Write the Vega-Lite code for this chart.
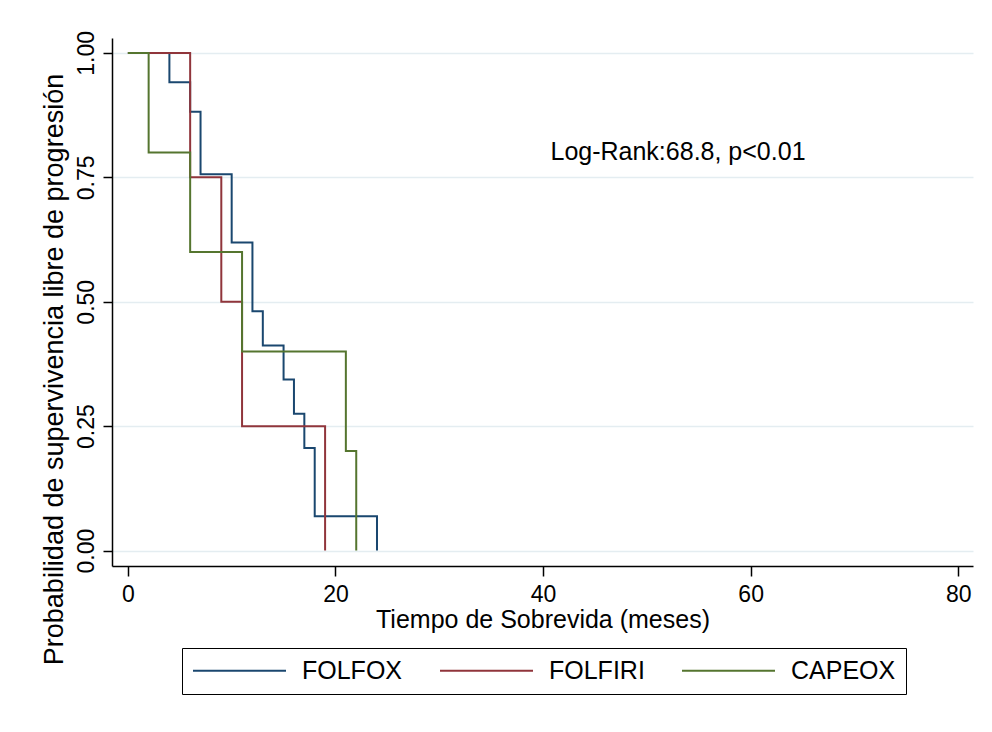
{
  "$schema": "https://vega.github.io/schema/vega-lite/v6.json",
  "width": 861,
  "height": 528,
  "autosize": {"type": "none"},
  "padding": {"left": 112, "top": 38, "right": 19, "bottom": 166},
  "background": "white",
  "config": {
    "font": "Liberation Sans",
    "view": {"stroke": null},
    "axis": {
      "domainColor": "black",
      "domainWidth": 1.5,
      "tickColor": "black",
      "tickWidth": 1.5,
      "labelColor": "black",
      "titleColor": "black",
      "labelFont": "Liberation Sans",
      "titleFont": "Liberation Sans",
      "titleFontWeight": "normal",
      "gridColor": "#e4edf1",
      "gridWidth": 1.5
    },
    "legend": {
      "labelFont": "Liberation Sans"
    }
  },
  "layer": [
    {
      "data": {
        "values": [
          {"t": 0, "s": 1, "grupo": "FOLFOX"},
          {"t": 4, "s": 0.941, "grupo": "FOLFOX"},
          {"t": 6, "s": 0.882, "grupo": "FOLFOX"},
          {"t": 7, "s": 0.756, "grupo": "FOLFOX"},
          {"t": 10, "s": 0.619, "grupo": "FOLFOX"},
          {"t": 12, "s": 0.481, "grupo": "FOLFOX"},
          {"t": 13, "s": 0.412, "grupo": "FOLFOX"},
          {"t": 15, "s": 0.344, "grupo": "FOLFOX"},
          {"t": 16, "s": 0.275, "grupo": "FOLFOX"},
          {"t": 17, "s": 0.206, "grupo": "FOLFOX"},
          {"t": 18, "s": 0.069, "grupo": "FOLFOX"},
          {"t": 24, "s": 0, "grupo": "FOLFOX"},
          {"t": 0, "s": 1, "grupo": "FOLFIRI"},
          {"t": 6, "s": 0.75, "grupo": "FOLFIRI"},
          {"t": 9, "s": 0.5, "grupo": "FOLFIRI"},
          {"t": 11, "s": 0.25, "grupo": "FOLFIRI"},
          {"t": 19, "s": 0, "grupo": "FOLFIRI"},
          {"t": 0, "s": 1, "grupo": "CAPEOX"},
          {"t": 2, "s": 0.8, "grupo": "CAPEOX"},
          {"t": 6, "s": 0.6, "grupo": "CAPEOX"},
          {"t": 11, "s": 0.4, "grupo": "CAPEOX"},
          {"t": 21, "s": 0.2, "grupo": "CAPEOX"},
          {"t": 22, "s": 0, "grupo": "CAPEOX"}
        ]
      },
      "mark": {"type": "line", "interpolate": "step-after", "strokeWidth": 2},
      "encoding": {
        "x": {
          "field": "t",
          "type": "quantitative",
          "scale": {"domain": [-1.53, 81.42], "nice": false, "zero": false},
          "axis": {
            "values": [0, 20, 40, 60, 80],
            "grid": false,
            "tickSize": 10,
            "labelFontSize": 23,
            "labelPadding": 7,
            "labelFlush": false,
            "title": "Tiempo de Sobrevida (meses)",
            "titleFontSize": 25,
            "titleY": 61,
            "titleBaseline": "alphabetic"
          }
        },
        "y": {
          "field": "s",
          "type": "quantitative",
          "scale": {"domain": [-0.031, 1.030], "nice": false, "zero": false},
          "axis": {
            "values": [0, 0.25, 0.5, 0.75, 1],
            "format": ".2f",
            "grid": true,
            "tickSize": 9,
            "labelFontSize": 23,
            "labelAngle": 270,
            "labelAlign": "center",
            "labelBaseline": "alphabetic",
            "labelPadding": 10,
            "labelFlush": false,
            "title": "Probabilidad de supervivencia libre de progresión",
            "titleFontSize": 27,
            "titleAngle": 270,
            "titleAlign": "center",
            "titleBaseline": "alphabetic",
            "titleX": -50,
            "titleY": 331
          }
        },
        "color": {
          "field": "grupo",
          "type": "nominal",
          "scale": {
            "domain": ["FOLFOX", "FOLFIRI", "CAPEOX"],
            "range": ["#1a476f", "#90353b", "#55752f"]
          },
          "legend": {
            "title": null,
            "orient": "none",
            "legendX": 70,
            "legendY": 610,
            "direction": "horizontal",
            "symbolType": "stroke",
            "symbolSize": 8649,
            "symbolStrokeWidth": 2,
            "labelFontSize": 25,
            "labelColor": "black",
            "labelOffset": 15,
            "columnPadding": 36,
            "padding": 10,
            "clipHeight": 25,
            "strokeColor": "black",
            "fillColor": "white"
          }
        }
      }
    },
    {
      "data": {"values": [{"t": 53, "s": 0.8, "label": "Log-Rank:68.8, p<0.01"}]},
      "mark": {"type": "text", "fontSize": 25, "align": "center", "baseline": "middle", "color": "black", "font": "Liberation Sans"},
      "encoding": {
        "x": {"field": "t", "type": "quantitative"},
        "y": {"field": "s", "type": "quantitative"},
        "text": {"field": "label", "type": "nominal"}
      }
    }
  ]
}
